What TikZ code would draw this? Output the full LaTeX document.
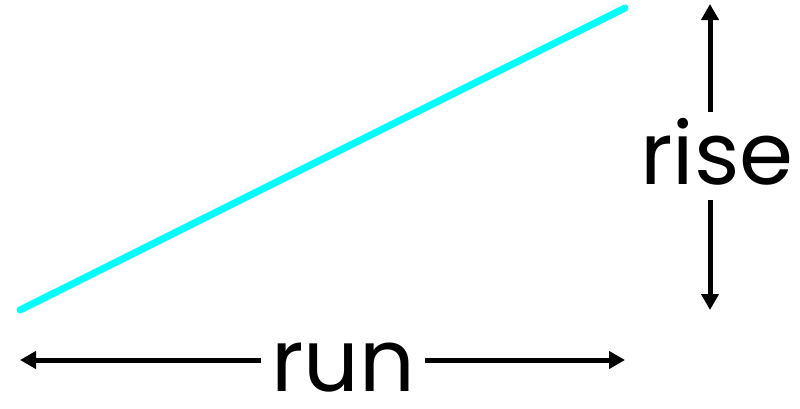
\documentclass[tikz,border=0pt]{standalone}
\usepackage{fontspec}
\setmainfont{Poppins}
\usetikzlibrary{arrows.meta}
\definecolor{slopecyan}{RGB}{0,255,255}
\tikzset{
  slope/.style={slopecyan, line width=7pt, line cap=round},
  measure/.style={black, line width=5pt, -{Triangle[length=16pt,width=17pt]}},
  lbl/.style={font=\fontsize{87}{87}\selectfont, inner sep=0pt, anchor=base}
}
\begin{document}
\begin{tikzpicture}[x=1pt,y=-1pt]
  \useasboundingbox (0,0) rectangle (800,408);
  \coordinate (low) at (20,310);
  \coordinate (high) at (625,8);
  \draw[slope] (low) -- (high);
  % rise
  \coordinate (risetop) at (710,4);
  \coordinate (risebot) at (710,310);
  \node[lbl, text height=72pt, text depth=16pt] (rise) at (717,184) {rise};
  \draw[measure] (rise.north -| risetop) -- (risetop);
  \draw[measure] (rise.south -| risebot) -- (risebot);
  % run
  \coordinate (runleft) at (20,360);
  \coordinate (runright) at (625,360);
  \node[lbl, minimum width=163pt] (run) at (343,391) {run};
  \draw[measure] (run.west |- runleft) -- (runleft);
  \draw[measure] (run.east |- runright) -- (runright);
\end{tikzpicture}
\end{document}
